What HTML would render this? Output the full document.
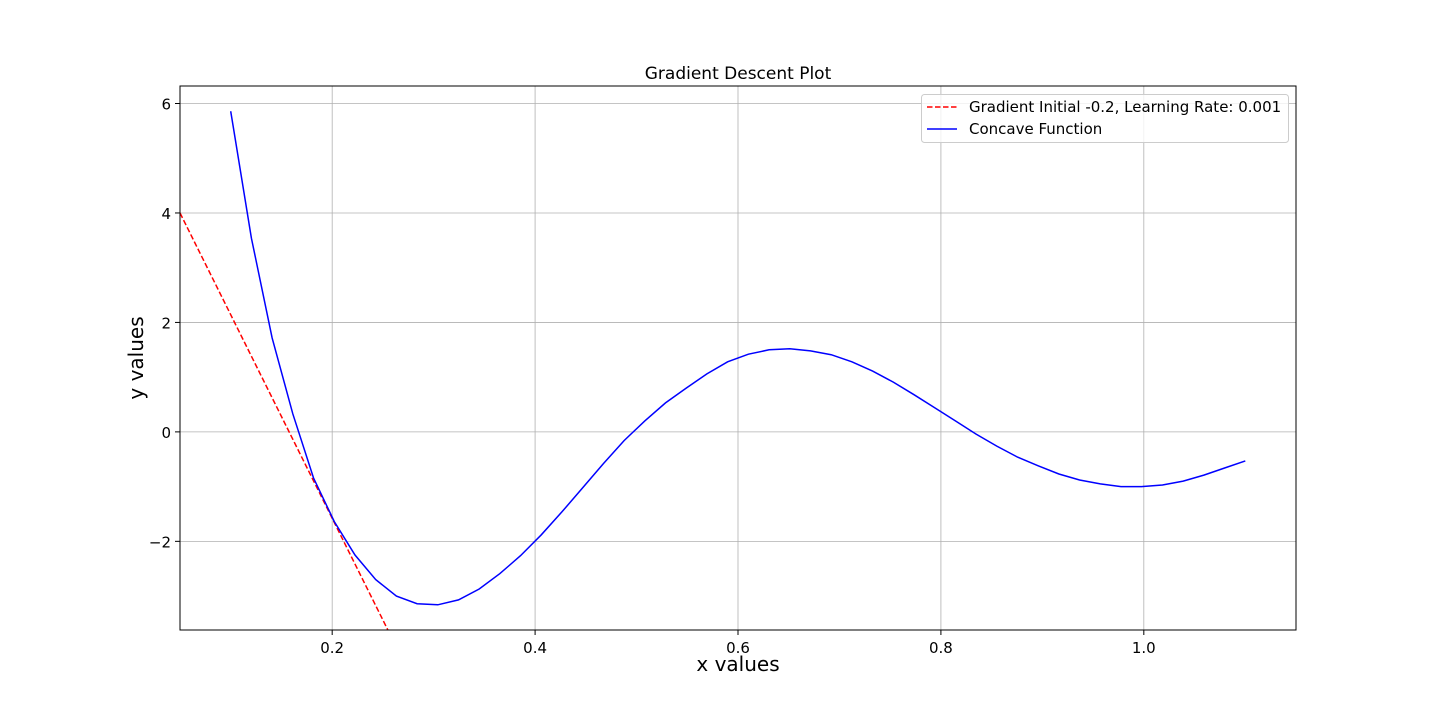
<!DOCTYPE html>
<html><head><meta charset="utf-8"><style>
body{margin:0;background:#fff;}
svg text{font-family:"DejaVu Sans","Liberation Sans",sans-serif;}
</style></head><body>
<svg id="chart" width="1440" height="720" xmlns="http://www.w3.org/2000/svg"></svg>
<script>
const curveX0 = 0.1, curveX1 = 1.1;
const curveY = [5.86,3.54,1.72,0.33,-0.84,-1.64,-2.25,-2.70,-3.0,-3.14,-3.16,-3.07,-2.87,-2.59,-2.26,-1.88,-1.46,-1.02,-0.58,-0.16,0.20,0.53,0.80,1.06,1.28,1.42,1.50,1.52,1.48,1.41,1.28,1.11,0.91,0.68,0.44,0.20,-0.04,-0.26,-0.46,-0.62,-0.77,-0.88,-0.95,-1.0,-1.0,-0.97,-0.90,-0.79,-0.66,-0.53];
const tangentX = [0.05, 0.26];
const tangentY = [4.0, -3.81];
const xTicks = [0.2,0.4,0.6,0.8,1.0];
const xTickLabels = ["0.2","0.4","0.6","0.8","1.0"];
const yTicks = [-2,0,2,4,6];
const yTickLabels = ["\u22122","0","2","4","6"];

const L=180,R=1296,T=86,B=630;
const xMin=0.05,xMax=1.15,yMin=-3.62,yMax=6.32;
const sx=v=>L+(v-xMin)/(xMax-xMin)*(R-L);
const sy=v=>B-(v-yMin)/(yMax-yMin)*(B-T);
const NS="http://www.w3.org/2000/svg";
const svg=document.getElementById('chart');
function mk(tag,attrs,parent){const e=document.createElementNS(NS,tag);for(const k in attrs)e.setAttribute(k,attrs[k]);(parent||svg).appendChild(e);return e;}

const defs=mk('defs',{});
const cp=mk('clipPath',{id:'clip'},defs);
mk('rect',{x:L,y:T,width:R-L,height:B-T},cp);

xTicks.forEach((v,i)=>{
  const g=mk('line',{x1:sx(v),x2:sx(v),y1:T,y2:B,stroke:'#b0b0b0','stroke-width':0.8});
  
  
  mk('line',{x1:sx(v),x2:sx(v),y1:B,y2:B+5,stroke:'#000','stroke-width':1});
  const t=mk('text',{x:sx(v),y:B+23,'text-anchor':'middle','font-size':15});
  t.textContent=xTickLabels[i];
  
  
});
yTicks.forEach((v,i)=>{
  const g=mk('line',{x1:L,x2:R,y1:sy(v),y2:sy(v),stroke:'#b0b0b0','stroke-width':0.8});
  
  
  mk('line',{x1:L-5,x2:L,y1:sy(v),y2:sy(v),stroke:'#000','stroke-width':1});
  const t=mk('text',{x:L-9,y:sy(v)+6,'text-anchor':'end','font-size':15});
  t.textContent=yTickLabels[i];
  
  
});

const tl=mk('line',{x1:sx(tangentX[0]),y1:sy(tangentY[0]),x2:sx(tangentX[1]),y2:sy(tangentY[1]),stroke:'red','stroke-width':1.5,'stroke-dasharray':'5.5,2.5','clip-path':'url(#clip)'});



const n=curveY.length;
const pts=curveY.map((y,i)=>sx(curveX0+(curveX1-curveX0)*i/(n-1)).toFixed(1)+','+sy(y).toFixed(1)).join(' ');
const pl=mk('polyline',{points:pts,fill:'none',stroke:'blue','stroke-width':1.5,'clip-path':'url(#clip)'});



const frame=mk('rect',{x:L,y:T,width:R-L,height:B-T,fill:'none',stroke:'#000','stroke-width':1});



const title=mk('text',{x:(L+R)/2,y:T-7,'text-anchor':'middle','font-size':17});
title.textContent='Gradient Descent Plot';


const xl=mk('text',{x:(L+R)/2,y:671,'text-anchor':'middle','font-size':20});
xl.textContent='x values';


const yl=mk('text',{x:0,y:0,'text-anchor':'middle','font-size':20,transform:'translate(143,358) rotate(-90)'});
yl.textContent='y values';



const lg=mk('g',{});


mk('rect',{x:921.5,y:94.5,width:367,height:48,rx:3,fill:'#fff','fill-opacity':0.8,stroke:'#ccc','stroke-width':1},lg);
mk('line',{x1:927,x2:957,y1:107,y2:107,stroke:'red','stroke-width':1.5,'stroke-dasharray':'5.5,2.5'},lg);
mk('line',{x1:927,x2:957,y1:129,y2:129,stroke:'blue','stroke-width':1.5},lg);
const e1=mk('text',{x:969,y:112,'font-size':15},lg);
e1.textContent='Gradient Initial -0.2, Learning Rate: 0.001';


const e2=mk('text',{x:969,y:134,'font-size':15},lg);
e2.textContent='Concave Function';


</script>
</body></html>
